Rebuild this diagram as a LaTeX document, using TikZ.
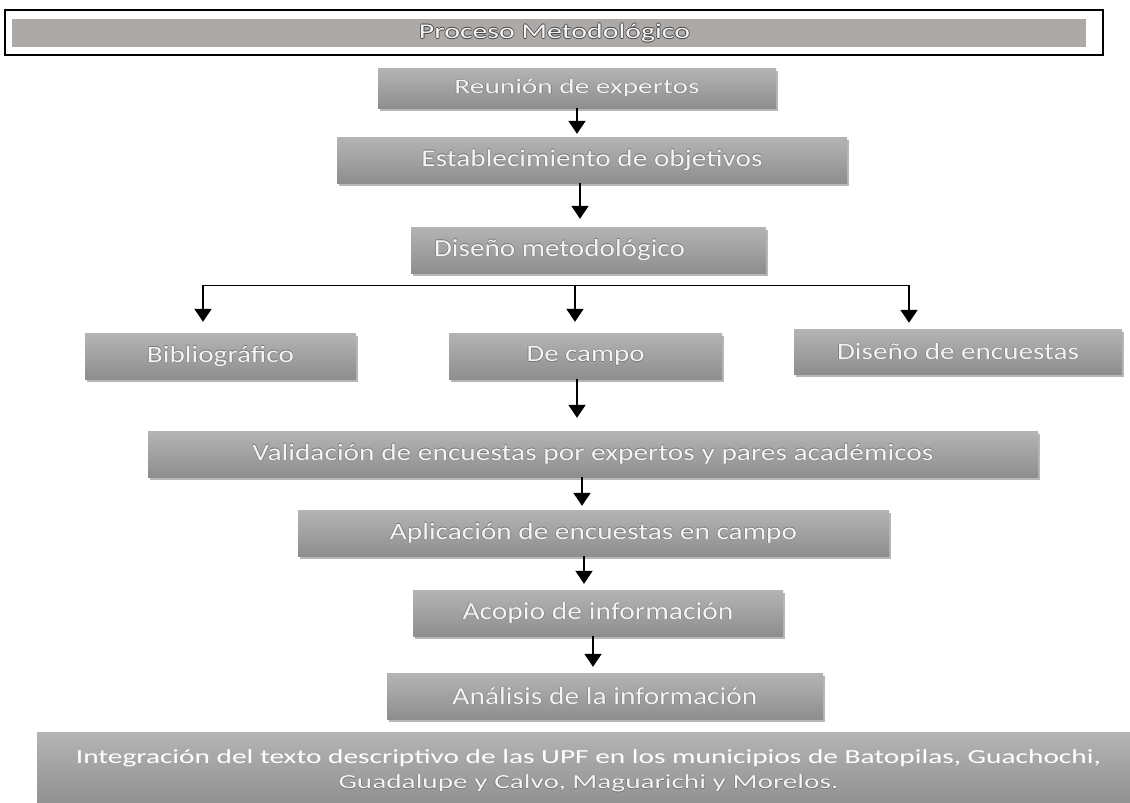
\documentclass[tikz,border=0pt]{standalone}
\usepackage{fontspec}
\setmainfont{Carlito}
\usepackage{graphicx}
\usetikzlibrary{arrows.meta,shadows}
\definecolor{boxtop}{RGB}{180,180,180}
\definecolor{boxbot}{RGB}{142,142,142}
\definecolor{titlegray}{RGB}{172,169,167}
\definecolor{txt}{RGB}{244,244,244}
\definecolor{olc}{RGB}{118,118,118}
\definecolor{oldark}{RGB}{70,70,70}
\newcommand\ot[3]{\leavevmode\rlap{\color{#1}\hspace*{-#2}#3}\rlap{\color{#1}\hspace*{#2}#3}\rlap{\color{#1}\raisebox{#2}{#3}}\rlap{\color{#1}\raisebox{-#2}{#3}}{\color{txt}#3}}
\newcommand\T[3]{\resizebox{#1pt}{\height}{\fontsize{#2pt}{#2pt}\selectfont\ot{olc}{0.42pt}{#3}}}
\newcommand\TT[3]{\resizebox{#1pt}{\height}{\fontsize{#2pt}{#2pt}\selectfont\ot{oldark}{0.55pt}{#3}}}
\newcommand\plaintxt[3]{\resizebox{#1pt}{\height}{\fontsize{#2pt}{#2pt}\selectfont\color{white}#3}}
\tikzset{
  box/.style={rectangle, inner sep=0pt, top color=boxtop, bottom color=boxbot, draw=none,
    drop shadow={shadow xshift=1.5pt, shadow yshift=-2.5pt, opacity=.4, fill=black!70}},
  arr/.style={line width=2pt, -{Triangle[width=17pt,length=13pt]}},
  branch/.style={line width=1pt}
}
\begin{document}
\begin{tikzpicture}[x=1pt,y=-1pt]
\useasboundingbox (0,0) rectangle (1130,803);
% title
\node[draw=black, line width=1.8pt, minimum width=1098pt, minimum height=45pt, inner sep=0pt] (titlebox) at (554,32.5) {};
\node[fill=titlegray, minimum width=1074pt, minimum height=28pt, inner sep=0pt] (title) at (549,33)
  {\hspace*{11pt}\TT{271}{21}{Proceso Metodológico}};
% boxes
\node[box, minimum width=398pt, minimum height=40pt] (reun) at (577,88) {\T{245}{20.5}{Reunión de expertos}};
\node[box, minimum width=510pt, minimum height=46pt] (estab) at (592,160) {\T{341}{24}{Establecimiento de objetivos}};
\node[box, minimum width=355pt, minimum height=46pt] (dis) at (588.5,250)
  {\makebox[355pt][l]{\hspace*{23pt}\T{251}{24.5}{Diseño metodológico}}};
\node[box, minimum width=271pt, minimum height=46pt] (biblio) at (220.5,356) {\T{147}{23.5}{Bibliográfico}};
\node[box, minimum width=273pt, minimum height=46pt] (campo) at (585.5,356) {\T{118}{23.5}{De campo}};
\node[box, minimum width=328pt, minimum height=45pt] (dencu) at (958,351.5) {\T{242}{23.5}{Diseño de encuestas}};
\node[box, minimum width=890pt, minimum height=46pt] (valid) at (593,454) {\T{681}{23.5}{Validación de encuestas por expertos y pares académicos}};
\node[box, minimum width=591pt, minimum height=46pt] (aplic) at (593.5,533) {\T{407}{23.5}{Aplicación de encuestas en campo}};
\node[box, minimum width=370pt, minimum height=46pt] (acopio) at (598,613) {\T{271}{24.5}{Acopio de información}};
\node[box, minimum width=436pt, minimum height=46pt] (anal) at (605,696) {\T{305}{24.5}{Análisis de la información}};
\node[box, minimum width=1103pt, minimum height=78pt, align=center] (integ) at (588.5,771)
  {\plaintxt{1025}{20}{Integración del texto descriptivo de las UPF en los municipios de Batopilas, Guachochi,}\\[7pt]
   \T{500}{20}{Guadalupe y Calvo, Maguarichi y Morelos.}};
% connectors
\coordinate (hl) at (203,285);
\coordinate (hm) at (575,285);
\coordinate (hr) at (909,285);
\draw[arr, shorten >=3pt] (reun.south -| 577,0) -- (estab.north -| 577,0);
\draw[arr, shorten >=8pt] (estab.south -| 580,0) -- (dis.north -| 580,0);
\draw[branch] (hl) -- (hr);
\draw[arr, shorten >=11pt] (hl) -- (biblio.north -| hl);
\draw[arr, shorten >=11pt] (hm) -- (campo.north -| hm);
\draw[arr, shorten >=6pt] (hr) -- (dencu.north -| hr);
\draw[arr, shorten >=13pt] (campo.south -| 577,0) -- (valid.north -| 577,0);
\draw[arr, shorten >=4pt] (valid.south -| 582,0) -- (aplic.north -| 582,0);
\draw[arr, shorten >=6pt] (aplic.south -| 584,0) -- (acopio.north -| 584,0);
\draw[arr, shorten >=6pt] (acopio.south -| 593,0) -- (anal.north -| 593,0);
\end{tikzpicture}
\end{document}
